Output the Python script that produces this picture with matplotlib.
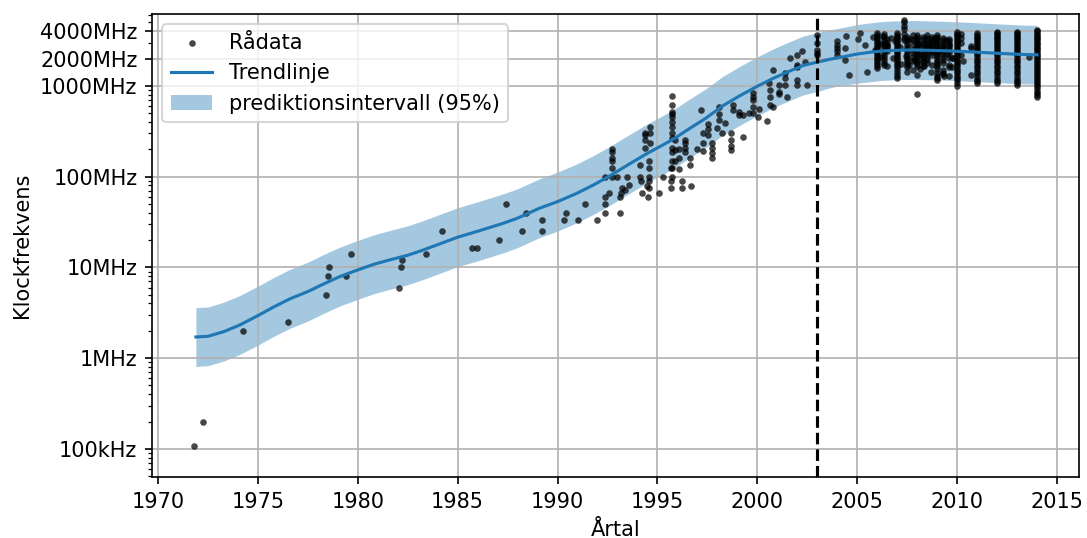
import numpy as np
import matplotlib
matplotlib.use("Agg")
import matplotlib.pyplot as plt
from matplotlib.ticker import NullFormatter

# trendlinje och prediktionsintervall (MHz)
trend_ar = [1971.9, 1972.5, 1973.3, 1974.1, 1975.0, 1975.8, 1976.6, 1977.5, 1978.3, 1979.1,
            1980.0, 1980.8, 1981.6, 1982.5, 1983.3, 1984.0, 1985.0, 1986.0, 1987.3, 1988.0,
            1989.1, 1990.0, 1991.0, 1991.8, 1992.55, 1993.6, 1994.5, 1995.0, 1995.8, 1996.6,
            1997.4, 1998.27, 1999.1, 2000.0, 2000.8, 2001.6, 2002.3, 2003.0, 2003.6, 2004.3,
            2004.95, 2005.6, 2006.3, 2007.0, 2007.8, 2008.8, 2009.6, 2010.5, 2011.5, 2012.5,
            2013.3, 2014.0]
trend_mhz = [1.71, 1.74, 1.96, 2.32, 2.94, 3.67, 4.50, 5.41, 6.58, 7.92,
             9.38, 10.8, 12.1, 13.6, 15.6, 17.8, 21.5, 25.0, 30.7, 34.9,
             44.9, 53, 66, 81, 100, 138, 181, 207, 259, 338,
             437, 603, 773, 990, 1213, 1450, 1680, 1830, 1960, 2090,
             2235, 2340, 2430, 2470, 2490, 2460, 2430, 2380, 2320, 2260,
             2220, 2200]
pi_ovre = [3.6, 3.66, 4.14, 4.9, 6.2, 7.74, 9.5, 11.4, 13.9, 16.7,
           19.8, 22.8, 25.5, 28.7, 32.9, 37.6, 45.4, 52.8, 64.8, 73.6,
           94.7, 112, 139, 171, 211, 291, 382, 437, 546, 713,
           922, 1272, 1631, 2089, 2559, 3060, 3545, 3861, 4135, 4410,
           4716, 4937, 5127, 5212, 5254, 5190, 5127, 5022, 4895, 4769,
           4684, 4642]
pi_undre = [0.81, 0.825, 0.93, 1.10, 1.39, 1.74, 2.13, 2.56, 3.12, 3.75,
            4.45, 5.12, 5.73, 6.45, 7.39, 8.43, 10.2, 11.8, 14.5, 16.5,
            21.3, 25.1, 31.3, 38.4, 47.4, 65.4, 85.8, 98.1, 123, 160,
            207, 286, 366, 469, 575, 687, 796, 867, 950, 1020,
            1065, 1109, 1152, 1171, 1180, 1166, 1152, 1128, 1100, 1071,
            1052, 1043]

# rådata före klustret
ra_ar = [1971.81, 1972.23, 1974.25, 1976.5, 1978.4, 1978.5, 1978.57, 1979.4, 1979.66, 1982.07,
         1982.15, 1982.24, 1983.4, 1984.23, 1985.73, 1985.98, 1987.07, 1987.4, 1988.23, 1988.4,
         1989.23, 1989.23, 1990.3, 1990.4, 1991.0, 1991.4, 1992.0, 1992.4, 1992.4, 1992.4,
         1992.56, 1993.15, 1993.15, 1993.2, 1993.25, 1993.4, 1993.6, 1992.4, 1992.73, 1993.0,
         1993.5, 1992.73, 1992.73, 1992.73, 1992.73, 1992.73, 1994.14, 1994.14, 1994.2, 1994.23,
         1994.55, 1994.6, 1994.6, 1994.6, 1994.6, 1994.6, 1994.4, 1994.4, 1994.4, 1994.4,
         1994.65, 1994.65, 1994.65, 1994.48, 1995.3, 1995.07, 1995.7, 1995.7, 1995.7, 1995.9,
         1995.9, 1995.73, 1995.73, 1995.73, 1995.73, 1995.73, 1995.73, 1995.73, 1995.73, 1995.73,
         1995.73, 1995.73, 1995.73, 1995.73, 1995.73, 1995.9, 1996.06, 1996.06, 1996.06, 1996.22,
         1996.22, 1996.4, 1996.4, 1996.4, 1996.4, 1996.64, 1996.64, 1996.7, 1996.97, 1997.2,
         1997.3, 1997.3, 1997.3, 1997.55, 1997.55, 1997.55, 1997.72, 1997.72, 1997.72, 1997.72,
         1997.97, 1998.06, 1998.06, 1998.06, 1998.23, 1998.4, 1998.7, 1998.7, 1998.7, 1998.7,
         1998.8, 1998.8, 1999.06, 1999.06, 1999.3, 1999.3, 1999.56, 1999.8, 1999.8, 1999.8,
         1999.8, 1999.8, 2000.05, 2000.06, 2000.5, 2000.65, 2000.65, 2000.65, 2000.6, 2000.8,
         2000.8, 2001.07, 2001.07, 2001.07, 2001.4, 2001.4, 2001.4, 2001.5, 2001.65, 2001.98,
         2001.98, 2001.98, 2001.98, 2001.98, 2002.23, 2002.4, 2002.5, 2003.0, 2003.0, 2003.0,
         2003.0, 2003.0]
ra_mhz = [0.108, 0.2, 2.0, 2.5, 5.0, 8.0, 10, 8.0, 14, 6.0,
          10, 12, 14, 25, 16.2, 16.2, 20, 50, 25, 40,
          33, 25, 33, 40, 33, 50, 33, 40, 50, 60,
          66, 40, 60, 66, 75, 72, 80, 100, 100, 100,
          100, 123, 150, 162, 185, 200, 100, 135, 90, 66,
          60, 75, 90, 100, 125, 150, 206, 254, 286, 300,
          356, 300, 233, 78, 100, 66, 90, 75, 123, 150,
          254, 776, 617, 521, 490, 450, 400, 356, 300, 265,
          206, 185, 150, 125, 100, 197, 200, 160, 120, 90,
          75, 254, 206, 185, 233, 160, 135, 78, 200, 544,
          300, 233, 190, 380, 335, 290, 233, 205, 180, 160,
          342, 580, 490, 420, 300, 388, 300, 254, 218, 195,
          617, 544, 520, 474, 275, 474, 500, 830, 763, 700,
          590, 500, 450, 550, 410, 900, 763, 617, 1070, 1500,
          580, 1025, 866, 817, 1380, 1215, 1025, 763, 2020, 2195,
          1700, 1630, 1160, 1025, 2430, 1826, 1025, 3650, 2960, 2290,
          2490, 2190]

# enstaka punkter i klustret 2004-2014
spridda_ar = [2004.45, 2004.4, 2004.4, 2004.6, 2005.03, 2005.15, 2005.4, 2005.5, 2006.3, 2006.7,
              2006.5, 2006.8, 2007.45, 2007.6, 2007.85, 2008.2, 2008.3, 2008.35, 2008.6, 2008.7,
              2009.3, 2009.35, 2009.6, 2009.6, 2009.8, 2008.0, 2010.3, 2013.6, 2010.7, 2010.7,
              2010.7, 2009.75, 2009.75, 2006.9, 2007.15, 2007.2, 2007.7, 2008.1, 2008.15, 2008.9,
              2009.1, 2009.45, 2009.5, 2006.15, 2006.2, 2005.8, 2005.9]
spridda_mhz = [3580, 2640, 1930, 1320, 3300, 3800, 2830, 1415, 3580, 3350,
               2720, 2020, 2110, 1700, 1930, 2200, 1850, 1640, 2600, 1440,
               1380, 1270, 2830, 1700, 2020, 810, 1900, 2100, 2720, 2600,
               1320, 2020, 1630, 3100, 2650, 1750, 3300, 2900, 1550, 3350,
               2450, 3200, 2250, 2900, 2100, 3500, 2500]

# tätare kolumner (samma årtal)
kol_2004 = [3100, 2850, 2600, 2400, 2200]
kol_2006 = [3800, 3600, 3450, 3300, 3150, 3000, 2850, 2700, 2580, 2460, 2340, 2230, 2120, 2020, 1920,
            1830, 1740, 1660, 1580]
kol_2006b = [3700, 3450, 3200, 3000, 2800, 2600, 2420, 2250, 2100, 1950, 1800, 1680]
kol_2006c = [3300, 3000, 2800, 2600, 2400, 1640]
kol_2007 = [3800, 3650, 3500, 3350, 3200, 3050, 2900, 2750, 2600, 2500, 2400, 2300, 2200, 2100, 2000,
            1900, 1800, 1700, 1600, 1500, 1400, 1300, 1215]
kol_2007b = [5300, 5000, 4600, 4200, 3700, 3400, 3200]
kol_2007c = [3500, 3300, 3100, 2900, 2700, 2550, 2400, 2250, 2100, 2000, 1900, 1800, 1700, 1600, 1440]
kol_2007d = [3600, 3200, 2800, 2500, 2300, 2100, 1900, 1500]
kol_2008 = [3650, 3450, 3300, 3150, 3000, 2850, 2700, 2560, 2430, 2300, 2180, 2060, 1950, 1840, 1740,
            1660, 1320]
kol_2008b = [3500, 3250, 3000, 2800, 2600, 2400, 2200, 2050, 1900, 1640]
kol_2008c = [3600, 3400, 3200, 3000, 2850, 2700, 2550, 2400, 2250, 2100, 1950, 1800]
kol_2008d = [3500, 3300, 3100, 2950, 2800, 2650, 2500, 2350, 2200, 1700]
kol_2009 = [3650, 3450, 3300, 3150, 3000, 2850, 2700, 2560, 2430, 2300, 2180, 2060, 1950, 1840, 1740,
            1640, 1540, 1400, 1300, 1215, 1150]
kol_2009b = [3400, 3200, 3000, 2850, 2700, 2550, 2400, 2250, 2100, 1950, 1800, 1500, 1350]
kol_2009c = [3300, 3100, 2900, 2700, 2500, 2300, 2020, 1630, 1300]
kol_2010 = [3900, 3750, 3600, 3450, 3300, 3150, 3000, 2850, 2700, 2560, 2430, 2300, 2180, 2060, 1950,
            1840, 1740, 1640, 1550, 1460, 1380, 1300, 1220, 1150, 1080, 1000]
kol_2010b = [3700, 3400, 3000, 2200]
kol_2011 = [3800, 3650, 3500, 3350, 3200, 3050, 2900, 2750, 2600, 2480, 2360, 2240, 2120, 2000, 1880,
            1770, 1660, 1560, 1460, 1370, 1280, 1200, 1130, 1070]
kol_2012 = [3950, 3800, 3650, 3500, 3350, 3200, 3050, 2900, 2750, 2600, 2480, 2360, 2240, 2120, 2000,
            1880, 1770, 1660, 1560, 1460, 1370, 1280, 1200, 1130, 1070]
kol_2013 = [3950, 3800, 3650, 3500, 3350, 3200, 3050, 2900, 2750, 2600, 2480, 2360, 2240, 2120, 2000,
            1880, 1770, 1660, 1560, 1460, 1370, 1280, 1200, 1130, 1070, 1025]
kol_2014 = [4130, 3980, 3830, 3680, 3540, 3400, 3260, 3130, 3000, 2880, 2760, 2640, 2530, 2420, 2310,
            2210, 2110, 2010, 1920, 1830, 1740, 1660, 1580, 1500, 1430, 1360, 1290, 1230, 1170, 1110,
            1060, 1010, 945, 880, 830, 790, 760]

kolumner = [(2004.0, kol_2004), (2006.0, kol_2006), (2006.36, kol_2006b), (2006.5, kol_2006c),
            (2007.0, kol_2007), (2007.33, kol_2007b), (2007.5, kol_2007c), (2007.8, kol_2007d),
            (2008.0, kol_2008), (2008.3, kol_2008b), (2008.5, kol_2008c), (2008.75, kol_2008d),
            (2009.0, kol_2009), (2009.3, kol_2009b), (2009.6, kol_2009c), (2010.0, kol_2010),
            (2010.2, kol_2010b), (2011.0, kol_2011), (2012.0, kol_2012), (2013.0, kol_2013),
            (2014.0, kol_2014)]

x = list(ra_ar) + list(spridda_ar)
y = list(ra_mhz) + list(spridda_mhz)
for ar, vals in kolumner:
    x += [ar] * len(vals)
    y += vals

fig, ax = plt.subplots(figsize=(1087 / 150, 538 / 150), dpi=150)
plt.subplots_adjust(left=0.1398, right=0.9926, bottom=0.1134, top=0.974)

ax.scatter(x, y, s=10, color="k", alpha=0.72, linewidths=0, label="Rådata", zorder=2)
ax.plot(trend_ar, trend_mhz, color="C0", lw=1.5, label="Trendlinje", zorder=3)
ax.fill_between(trend_ar, pi_undre, pi_ovre, color="C0", alpha=0.4, lw=0,
                label="prediktionsintervall (95%)", zorder=1)
ax.axvline(2003, color="k", ls="--", lw=1.5, zorder=4)

ax.set_yscale("log")
ax.set_ylim(0.049, 6200)
ax.set_xlim(1969.7, 2016.1)
ax.set_xticks(range(1970, 2020, 5))
ax.set_yticks([0.1, 1, 10, 100, 1000, 2000, 4000])
ax.set_yticklabels(["100kHz", "1MHz", "10MHz", "100MHz", "1000MHz", "2000MHz", "4000MHz"])
ax.yaxis.set_minor_formatter(NullFormatter())
ax.grid(True)
ax.set_xlabel("Årtal")
ax.set_ylabel("Klockfrekvens")
ax.legend(loc="upper left")

fig.savefig("out.png", dpi=150)
